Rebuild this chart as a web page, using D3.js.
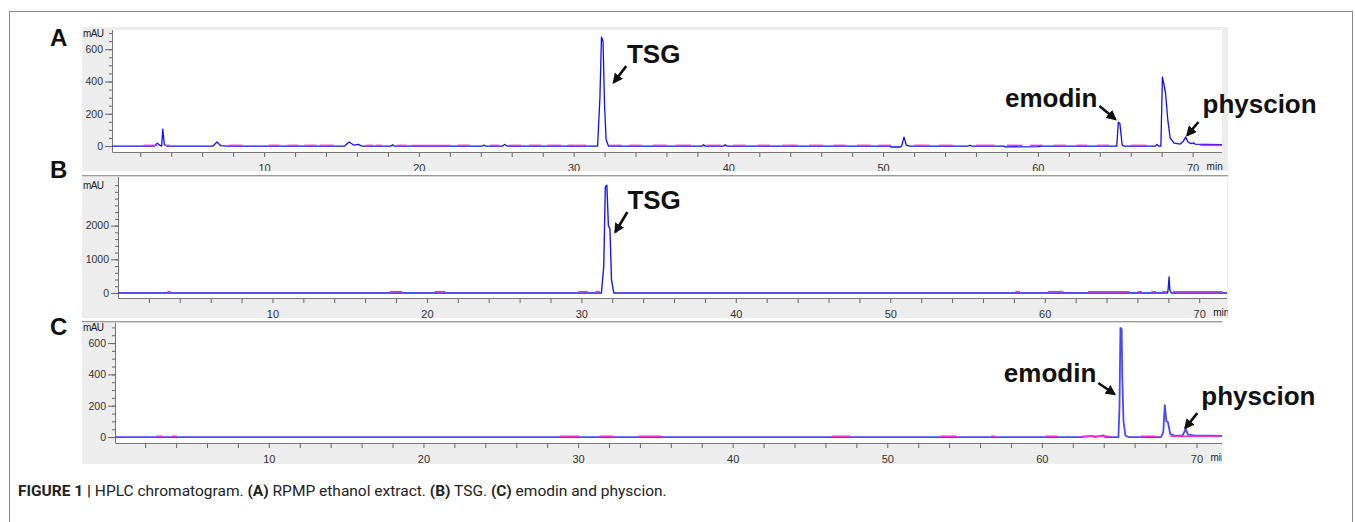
<!DOCTYPE html>
<html>
<head>
  <title>HPLC chromatogram</title>
  <script src="https://cdn.jsdelivr.net/npm/d3@7"></script>
  <style>
    body { margin: 0; background: #fff; }
    svg text { font-family: "Liberation Sans", Arial, sans-serif; }
  </style>
</head>
<body>
  <div id="myChart"></div>
  <script>
    // retention time tick labels (min)
    const timeLabels = [10, 20, 30, 40, 50, 60, 70];

    // y tick labels per panel (mAU)
    const yLabelsA = [0, 200, 400, 600];
    const yLabelsB = [0, 1000, 2000];
    const yLabelsC = [0, 200, 400, 600];

    // blue trace, [time, mAU]
    const traceA = [
      [0.2, 0], [2.9, 0], [3.1, 18], [3.25, 5], [3.38, 0], [3.45, 105], [3.55, 10], [3.7, 0],
      [6.7, 0], [6.95, 25], [7.2, 2], [7.6, 0],
      [15.2, 0], [15.5, 25], [15.8, 5], [16.1, 10], [16.3, 0],
      [18.2, 0], [18.3, 8], [18.4, 0],
      [24.1, 0], [24.2, 6], [24.3, 0],
      [25.4, 0], [25.55, 10], [25.7, 0],
      [31.55, 0], [31.7, 300], [31.8, 675], [31.9, 650], [32.0, 250], [32.1, 40], [32.25, 0],
      [38.3, 0], [38.4, 8], [38.5, 0],
      [39.7, 0], [39.8, 8], [39.9, 0],
      [50.4, 0], [50.5, -6], [51.1, -6], [51.2, 0], [51.35, 55], [51.5, 5], [51.7, 0],
      [55.5, 0], [55.6, 5], [55.7, 0],
      [57.8, 0], [57.9, -5], [60.0, -4], [60.3, 0],
      [65.1, 0], [65.2, 148], [65.3, 140], [65.45, 5], [65.6, 0],
      [67.6, 0], [67.7, 10], [67.8, 0], [67.95, 0], [68.05, 427], [68.15, 380], [68.25, 330],
      [68.4, 160], [68.55, 50], [68.8, 18], [69.2, 12], [69.4, 30], [69.55, 55], [69.7, 25],
      [69.9, 15], [70.05, 20], [70.15, 12], [71.9, 8]
    ];
    const traceB = [
      [0, 0], [31.3, 0], [31.45, 800], [31.55, 3150], [31.65, 3200], [31.75, 2000],
      [31.85, 1900], [31.95, 400], [32.1, 0],
      [67.95, 0], [68.0, 150], [68.05, 475], [68.1, 80], [68.2, 0], [71.8, 0]
    ];
    const traceC = [
      [0.05, 0], [62.5, 0], [63.3, 8], [63.4, 0], [64.0, 10], [64.1, 0],
      [64.95, 0], [65.02, 190], [65.08, 696], [65.16, 690], [65.2, 380], [65.28, 100], [65.4, 10], [65.6, 0],
      [67.7, 0], [67.85, 30], [67.95, 204], [68.05, 100], [68.15, 96], [68.3, 20], [68.6, 8],
      [69.1, 10], [69.3, 50], [69.45, 15], [69.8, 10], [71.65, 8]
    ];

    // stretches where the magenta reference trace shows above the blue one
    const pinkA = [
      [2.2, 3.1], [3.6, 3.9], [7.7, 8.6], [10.3, 11.0], [11.5, 12.2], [12.6, 13.4], [13.6, 14.5],
      [16.6, 17.0], [17.2, 17.6], [18.6, 19.2], [19.5, 22.0], [22.5, 23.3], [24.6, 25.2],
      [25.8, 26.6], [27.1, 27.9], [28.3, 29.2], [29.6, 30.8], [32.3, 33.1], [33.6, 34.4],
      [35.1, 36.0], [36.6, 37.6], [38.6, 39.5], [40.3, 41.1], [41.9, 42.7], [43.5, 44.5],
      [45.2, 46.1], [46.8, 47.6], [48.3, 49.2], [49.7, 50.5], [52.0, 53.0], [53.6, 54.5],
      [56.0, 57.2], [58.0, 59.0], [59.5, 60.3], [61.0, 61.8], [62.5, 63.2], [63.8, 64.6],
      [66.0, 67.0], [70.5, 71.9]
    ];
    const pinkB = [
      [3.2, 3.4], [17.6, 18.4], [20.5, 21.2], [29.8, 30.4], [30.9, 31.2], [58.1, 58.4],
      [60.2, 61.2], [62.8, 65.5], [66.0, 66.3], [66.9, 67.2], [67.6, 67.9], [68.3, 71.5]
    ];
    const pinkC = [
      [2.75, 3.15], [3.7, 4.05], [28.8, 30.1], [31.4, 32.3], [33.9, 35.4], [46.4, 47.6],
      [53.4, 54.5], [56.7, 57.0], [60.2, 61.0], [62.6, 64.4], [66.4, 67.4], [68.3, 71.5]
    ];

    // peak annotations: text anchor point and arrow tail/head, in [time, mAU]
    const notesA = [
      { text: "TSG", anchor: "start", at: [33.45, 515], from: [33.4, 495], to: [32.6, 395] },
      { text: "emodin", anchor: "end", at: [63.85, 242], from: [63.98, 248], to: [65.0, 167] },
      { text: "physcion", anchor: "start", at: [70.64, 205], from: [70.38, 149], to: [69.66, 68] }
    ];
    const notesB = [
      { text: "TSG", anchor: "start", at: [32.98, 2493], from: [32.98, 2404], to: [32.2, 1810] }
    ];
    const notesC = [
      { text: "emodin", anchor: "end", at: [63.52, 351], from: [63.65, 345], to: [64.69, 275] },
      { text: "physcion", anchor: "start", at: [70.31, 204], from: [70.05, 153], to: [69.28, 58] }
    ];

    const width = 1355, height = 522;

    const panels = [
      { label: "A", trace: traceA, pink: pinkA, notes: notesA, yLabels: yLabelsA,
        pinkOff: 4, yStep: 50, yTop: 700, xDomain: [0.17, 71.9], yDomain: [-37, 719],
        box: [82, 1228, 27, 171], plot: [112, 1222, 30, 152], letterY: 46, blue: "#1010f0", lw: 1.3 },
      { label: "B", trace: traceB, pink: pinkB, notes: notesB, yLabels: yLabelsB,
        pinkOff: 40, yStep: 200, yTop: 3200, xDomain: [0, 71.8], yDomain: [-148, 3442],
        box: [82, 1228, 175, 318], plot: [118, 1227, 177, 298], letterY: 178, blue: "#1a1aee", lw: 1.4 },
      { label: "C", trace: traceC, pink: pinkC, notes: notesC, yLabels: yLabelsC,
        pinkOff: 5, yStep: 50, yTop: 700, xDomain: [0.05, 71.65], yDomain: [-38, 728],
        box: [82, 1222, 321, 464], plot: [115, 1222, 323, 443], letterY: 335, blue: "#4848ff", lw: 1.8 }
    ];

    const svg = d3.select("#myChart").append("svg")
        .attr("width", width)
        .attr("height", height);

    svg.append("defs").append("marker")
        .attr("id", "head")
        .attr("viewBox", "0 0 10 10")
        .attr("refX", 8).attr("refY", 5)
        .attr("markerWidth", 4).attr("markerHeight", 4)
        .attr("orient", "auto")
      .append("path")
        .attr("d", "M0,0L10,5L0,10z")
        .attr("fill", "#111");

    // outer frame
    svg.append("rect")
        .attr("x", 9.5).attr("y", 11.5)
        .attr("width", 1343).attr("height", 540)
        .attr("fill", "none")
        .attr("stroke", "#8a8a8a");

    panels.forEach((p, i) => {
      const [bx0, bx1, by0, by1] = p.box;
      const [px0, px1, py0, py1] = p.plot;

      const x = d3.scaleLinear().domain(p.xDomain).range([px0, px1]);
      const y = d3.scaleLinear().domain(p.yDomain).range([py1, py0]);

      svg.append("clipPath").attr("id", "box" + i)
        .append("rect").attr("x", bx0).attr("y", by0).attr("width", bx1 - bx0).attr("height", by1 - by0);
      const g = svg.append("g").attr("clip-path", `url(#box${i})`);

      // grey window of the software screenshot
      g.append("rect")
          .attr("x", bx0).attr("y", by0).attr("width", bx1 - bx0).attr("height", by1 - by0)
          .attr("fill", "#ededed");
      if (i > 0) {
        g.append("line")
            .attr("x1", bx0).attr("x2", bx1).attr("y1", by0 + 0.5).attr("y2", by0 + 0.5)
            .attr("stroke", "#9a9a9a").attr("stroke-width", 1.5);
      }
      g.append("rect")
          .attr("x", px0).attr("y", py0).attr("width", px1 - px0).attr("height", py1 - py0)
          .attr("fill", "#fff");

      // y axis: minor ticks, then labelled majors
      g.append("g")
          .attr("transform", `translate(${px0},0)`)
          .call(d3.axisLeft(y).tickValues(d3.range(0, p.yTop + 1, p.yStep)).tickSize(3).tickFormat(""))
          .call(a => a.select(".domain").remove())
          .call(a => a.selectAll("line").attr("stroke", "#666"));
      g.append("g")
          .attr("transform", `translate(${px0},0)`)
          .call(d3.axisLeft(y).tickValues(p.yLabels).tickSize(7).tickPadding(2).tickFormat(d3.format("d")))
          .call(a => a.select(".domain").remove())
          .call(a => a.selectAll("line").attr("stroke", "#666"))
          .call(a => a.selectAll("text")
              .attr("fill", "#333")
              .style("font-size", "10.5px"));

      g.append("text")
          .attr("x", bx0 + 1)
          .attr("y", y(p.yTop) + 4)
          .attr("fill", "#222")
          .style("font-size", "10px")
          .style("letter-spacing", "-0.6px")
          .text("mAU");

      // x axis
      const xt = d3.range(2, p.xDomain[1], 2);
      g.append("g")
          .attr("transform", `translate(0,${py1})`)
          .call(d3.axisBottom(x).tickValues(xt).tickSize(5)
              .tickFormat(d => timeLabels.includes(d) ? d : "").tickPadding(7))
          .call(a => a.select(".domain").remove())
          .call(a => a.selectAll("line").attr("stroke", "#666"))
          .call(a => a.selectAll("text")
              .attr("fill", "#333")
              .style("font-size", "11px"));
      g.append("text")
          .attr("x", x(70) + 14)
          .attr("y", py1 + 18)
          .attr("fill", "#222")
          .style("font-size", "10px")
          .text("min");

      // axis lines
      g.append("path")
          .attr("d", `M${px0 + 0.5},${py0}V${py1 + 0.5}H${px1}`)
          .attr("fill", "none")
          .attr("stroke", "#777");

      const line = d3.line().x(d => x(d[0])).y(d => y(d[1]));
      const plot = g.append("g");

      plot.append("path")
          .datum(p.trace)
          .attr("d", line)
          .attr("fill", "none")
          .attr("stroke", p.blue)
          .attr("stroke-width", p.lw)
          .attr("stroke-linejoin", "round");

      plot.selectAll(".pink")
          .data(p.pink)
          .enter().append("path")
          .attr("class", "pink")
          .attr("d", d => line([[d[0], p.pinkOff], [d[1], p.pinkOff]]))
          .attr("fill", "none")
          .attr("stroke", "#ff2ad4")
          .attr("stroke-width", 1.5);

      // panel letter
      svg.append("text")
          .attr("x", 50)
          .attr("y", p.letterY)
          .attr("fill", "#111")
          .style("font-size", "24px")
          .style("font-weight", "bold")
          .text(p.label);

      // peak names with arrows
      p.notes.forEach(n => {
        svg.append("text")
            .attr("x", x(n.at[0]))
            .attr("y", y(n.at[1]))
            .attr("text-anchor", n.anchor)
            .attr("fill", "#111")
            .style("font-size", "26px")
            .style("font-weight", "bold")
            .text(n.text);
        svg.append("line")
            .attr("x1", x(n.from[0])).attr("y1", y(n.from[1]))
            .attr("x2", x(n.to[0])).attr("y2", y(n.to[1]))
            .attr("stroke", "#111")
            .attr("stroke-width", 2.6)
            .attr("marker-end", "url(#head)");
      });
    });

    // caption
    const cap = svg.append("text")
        .attr("x", 18)
        .attr("y", 496)
        .attr("fill", "#222")
        .style("font-family", "Roboto, 'Liberation Sans', sans-serif")
        .style("font-size", "15.5px");
    const parts = [
      ["FIGURE 1 | ", true], ["HPLC chromatogram. ", false], ["(A)", true],
      [" RPMP ethanol extract. ", false], ["(B)", true], [" TSG. ", false],
      ["(C)", true], [" emodin and physcion.", false]
    ];
    parts.forEach(([t, b]) => {
      cap.append("tspan").style("font-weight", b ? "bold" : "normal").text(t);
    });
  </script>
</body>
</html>
